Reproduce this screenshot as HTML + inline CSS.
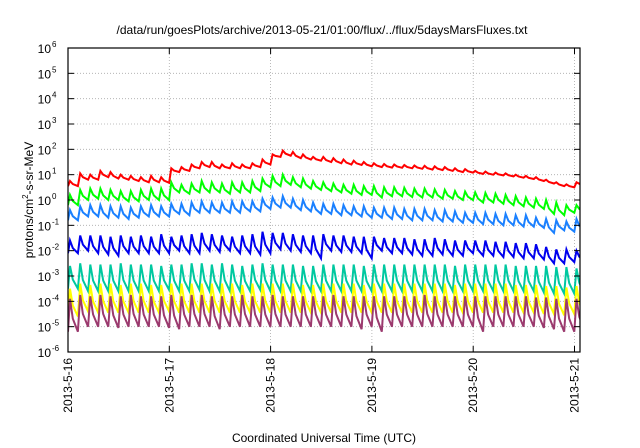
<!DOCTYPE html>
<html><head><meta charset="utf-8"><style>
body{margin:0;background:#fff}
svg{display:block;font-family:"Liberation Sans",sans-serif}
</style></head><body>
<svg id="chart" width="640" height="448" viewBox="0 0 640 448">
<rect width="640" height="448" fill="#fff"/>
<text x="322" y="34" font-size="12" text-anchor="middle">/data/run/goesPlots/archive/2013-05-21/01:00/flux/../flux/5daysMarsFluxes.txt</text>
<g id="grid"></g><g id="series"></g><g id="axes"></g>
<text x="324" y="442" font-size="12" text-anchor="middle">Coordinated Universal Time (UTC)</text>
<text transform="translate(33,200) rotate(-90)" font-size="12" text-anchor="middle">protons/cm<tspan dy="-5" font-size="8">2</tspan><tspan dy="5">-s-sr-MeV</tspan></text>
</svg>
<script>
const xTickLabels=["2013-5-16","2013-5-17","2013-5-18","2013-5-19","2013-5-20","2013-5-21"];
const yTickExps=[-6,-5,-4,-3,-2,-1,0,1,2,3,4,5,6];
const toothStep=0.1;
const colors=["#ff0000","#00ff00","#1a80ff","#0000ee","#00c8a0","#ffff00","#9b3a6e"];
const seriesNames=["red","green","light-blue","blue","teal","yellow","purple"];
const redPeaks=[0.75,1.05,1.0,1.15,1.1,1.0,0.95,0.9,0.95,0.9,1.25,1.3,1.4,1.5,1.5,1.4,1.45,1.4,1.45,1.6,1.8,1.95,1.9,1.8,1.7,1.7,1.65,1.6,1.55,1.5,1.45,1.42,1.4,1.38,1.36,1.35,1.33,1.3,1.25,1.22,1.15,1.12,1.08,1.05,1.0,0.95,0.9,0.8,0.7,0.62,0.7];
const redTroughs=[0.55,0.8,0.8,0.9,0.85,0.8,0.75,0.7,0.7,0.68,1.1,1.15,1.25,1.3,1.25,1.25,1.25,1.25,1.3,1.4,1.7,1.75,1.65,1.6,1.55,1.5,1.45,1.4,1.38,1.33,1.3,1.28,1.27,1.25,1.23,1.2,1.18,1.15,1.1,1.08,1.03,1.0,0.97,0.93,0.88,0.83,0.75,0.65,0.55,0.5,0.6];
const greenPeaks=[0.2,0.4,0.45,0.45,0.4,0.35,0.35,0.4,0.45,0.45,0.7,0.6,0.65,0.75,0.7,0.65,0.7,0.7,0.75,0.85,0.95,1.0,0.9,0.85,0.75,0.7,0.65,0.6,0.6,0.55,0.55,0.5,0.5,0.48,0.45,0.45,0.42,0.4,0.35,0.33,0.3,0.28,0.25,0.2,0.15,0.1,0.05,0,-0.1,-0.2,-0.2];
const greenTroughs=[-0.2,0,0.05,0,0,-0.05,-0.05,0,0,0,0.3,0.25,0.3,0.3,0.3,0.25,0.3,0.3,0.35,0.5,0.55,0.6,0.5,0.45,0.4,0.35,0.3,0.25,0.2,0.2,0.1,0.15,0.15,0.12,0.1,0.1,0.05,0.05,0,0,-0.1,-0.1,-0.15,-0.2,-0.25,-0.3,-0.35,-0.55,-0.6,-0.5,-0.45];
const lblPeaks=[-0.4,-0.25,-0.2,-0.2,-0.25,-0.25,-0.3,-0.25,-0.2,-0.25,-0.15,-0.15,-0.1,-0.05,-0.1,-0.1,-0.05,-0.05,-0.05,0.05,0.1,0.15,0.05,0,-0.1,-0.15,-0.15,-0.2,-0.25,-0.25,-0.3,-0.3,-0.3,-0.35,-0.35,-0.35,-0.4,-0.4,-0.45,-0.5,-0.5,-0.5,-0.55,-0.55,-0.6,-0.6,-0.7,-0.75,-0.8,-0.85,-0.75];
const lblTroughs=[-0.8,-0.65,-0.65,-0.7,-0.7,-0.75,-0.7,-0.65,-0.65,-0.65,-0.55,-0.6,-0.5,-0.5,-0.5,-0.5,-0.5,-0.45,-0.45,-0.35,-0.3,-0.3,-0.4,-0.45,-0.55,-0.55,-0.6,-0.6,-0.65,-0.7,-0.7,-0.75,-0.75,-0.8,-0.8,-0.8,-0.85,-0.85,-0.9,-0.9,-0.95,-0.95,-1.0,-1.0,-1.05,-1.05,-1.1,-1.3,-1.2,-1.25,-1.2];
const bluePeaks=[-1.6,-1.4,-1.4,-1.4,-1.45,-1.4,-1.45,-1.4,-1.45,-1.35,-1.45,-1.4,-1.35,-1.3,-1.35,-1.4,-1.45,-1.4,-1.35,-1.25,-1.3,-1.3,-1.35,-1.4,-1.4,-1.35,-1.4,-1.4,-1.45,-1.45,-1.45,-1.5,-1.5,-1.5,-1.55,-1.55,-1.5,-1.55,-1.6,-1.6,-1.6,-1.6,-1.65,-1.65,-1.7,-1.7,-1.75,-1.85,-1.95,-1.95,-2.0];
const blueTroughs=[-2.1,-2.0,-2.1,-2.15,-2.2,-2.1,-2.1,-2.1,-2.1,-2.1,-2.0,-2.1,-2.1,-2.0,-2.05,-2.0,-2.1,-2.1,-2.15,-2.1,-1.95,-2.0,-2.05,-2.1,-2.3,-2.0,-2.05,-2.05,-2.1,-2.3,-2.0,-2.1,-2.1,-2.15,-2.2,-2.2,-2.15,-2.2,-2.2,-2.1,-2.2,-2.2,-2.25,-2.25,-2.3,-2.3,-2.35,-2.5,-2.5,-2.45,-2.4];
const tealPeaks=[-2.6,-2.5,-2.55,-2.55,-2.55,-2.5,-2.55,-2.55,-2.55,-2.6,-2.55,-2.55,-2.5,-2.5,-2.55,-2.5,-2.55,-2.6,-2.55,-2.5,-2.55,-2.55,-2.55,-2.6,-2.6,-2.55,-2.55,-2.55,-2.55,-2.6,-2.55,-2.55,-2.55,-2.55,-2.55,-2.55,-2.55,-2.55,-2.6,-2.55,-2.55,-2.55,-2.55,-2.55,-2.6,-2.6,-2.6,-2.6,-2.65,-2.65,-2.7];
const tealTroughs=[-3.5,-3.6,-3.6,-3.6,-3.6,-3.6,-3.6,-3.6,-3.6,-3.55,-3.6,-3.6,-3.55,-3.6,-3.6,-3.6,-3.6,-3.6,-3.55,-3.6,-3.6,-3.6,-3.6,-3.6,-3.6,-3.6,-3.6,-3.6,-3.6,-3.6,-3.6,-3.6,-3.6,-3.6,-3.6,-3.6,-3.6,-3.6,-3.6,-3.6,-3.6,-3.6,-3.6,-3.6,-3.6,-3.6,-3.65,-3.7,-3.7,-3.7,-3.65];
const yellowPeaks=[-3.5,-3.3,-3.35,-3.3,-3.3,-3.35,-3.3,-3.3,-3.35,-3.35,-3.3,-3.3,-3.3,-3.3,-3.3,-3.3,-3.3,-3.35,-3.3,-3.3,-3.3,-3.3,-3.3,-3.35,-3.35,-3.3,-3.3,-3.3,-3.3,-3.35,-3.3,-3.3,-3.3,-3.3,-3.3,-3.3,-3.3,-3.3,-3.35,-3.3,-3.3,-3.3,-3.3,-3.3,-3.35,-3.35,-3.35,-3.4,-3.4,-3.45,-3.4];
const yellowTroughs=[-4.6,-4.4,-4.45,-4.45,-4.45,-4.45,-4.45,-4.45,-4.45,-4.4,-4.45,-4.45,-4.45,-4.45,-4.45,-4.45,-4.45,-4.45,-4.45,-4.45,-4.45,-4.45,-4.45,-4.45,-4.45,-4.45,-4.45,-4.45,-4.45,-4.45,-4.45,-4.45,-4.45,-4.45,-4.45,-4.45,-4.45,-4.45,-4.45,-4.45,-4.45,-4.45,-4.45,-4.45,-4.45,-4.45,-4.5,-4.5,-4.55,-4.5,-4.5];
const purplePeaks=[-3.9,-3.75,-3.8,-3.75,-3.8,-3.8,-3.75,-3.8,-3.8,-3.8,-3.75,-3.8,-3.75,-3.75,-3.8,-3.8,-3.8,-3.75,-3.8,-3.8,-3.75,-3.8,-3.8,-3.8,-3.8,-3.8,-3.75,-3.8,-3.8,-3.8,-3.8,-3.8,-3.8,-3.8,-3.8,-3.75,-3.8,-3.8,-3.8,-3.8,-3.8,-3.8,-3.8,-3.8,-3.8,-3.8,-3.85,-3.85,-3.9,-3.9,-3.9];
const purpleTroughs=[-5.2,-5.0,-5.0,-5.0,-5.05,-5.0,-5.0,-5.0,-5.0,-5.05,-5.1,-5.0,-5.0,-5.0,-5.1,-5.0,-5.0,-5.0,-5.0,-5.0,-5.0,-5.0,-5.0,-5.0,-5.0,-5.0,-5.0,-5.0,-5.1,-5.0,-5.2,-5.0,-5.0,-5.0,-5.0,-5.0,-5.0,-5.0,-5.0,-5.0,-5.2,-5.0,-5.0,-5.0,-5.0,-5.0,-5.05,-5.1,-5.2,-5.2,-5.1];
const allPeaks=[redPeaks,greenPeaks,lblPeaks,bluePeaks,tealPeaks,yellowPeaks,purplePeaks];
const allTroughs=[redTroughs,greenTroughs,lblTroughs,blueTroughs,tealTroughs,yellowTroughs,purpleTroughs];

const L=68,R=580,T=48,B=352,dayPx=101.3,tMax=(R-L)/dayPx;
const xs=t=>L+t*dayPx;
const ys=v=>T+(6-v)*(B-T)/12;
const NS="http://www.w3.org/2000/svg";
function mk(tag,attrs,parent){const e=document.createElementNS(NS,tag);for(const k in attrs)e.setAttribute(k,attrs[k]);parent.appendChild(e);return e;}
const grid=document.getElementById('grid'),axes=document.getElementById('axes'),ser=document.getElementById('series');
yTickExps.forEach((ex,i)=>{
  const y=ys(ex);
  if(ex>-6&&ex<6){const g=mk('line',{x1:L,x2:R,y1:y,y2:y,stroke:'#aaa','stroke-width':0.8,'stroke-dasharray':'1,2'},grid);
  
  }
  mk('line',{x1:L,x2:L+6,y1:y,y2:y,stroke:'#000'},axes);
  mk('line',{x1:R,x2:R-6,y1:y,y2:y,stroke:'#000'},axes);
  const t=mk('text',{x:L-17,y:y+5,'font-size':12,'text-anchor':'end'},axes);
  
  
  t.textContent='10';
  const s=mk('tspan',{x:L-16,dy:-6,'font-size':8,'text-anchor':'start'},t);s.textContent=String(ex);
});
xTickLabels.forEach((lab,i)=>{
  const x=xs(i);
  if(i>0){const g=mk('line',{x1:x,x2:x,y1:T,y2:B,stroke:'#aaa','stroke-width':0.8,'stroke-dasharray':'1,2'},grid);
  
  }
  mk('line',{x1:x,x2:x,y1:B,y2:B-6,stroke:'#000'},axes);
  mk('line',{x1:x,x2:x,y1:T,y2:T+6,stroke:'#000'},axes);
  const t=mk('text',{transform:`translate(${x+4},${B+6}) rotate(-90)`,'font-size':12,'text-anchor':'end'},axes);
  
  
  t.textContent=lab;
});
const fr=mk('rect',{x:L,y:T,width:R-L,height:B-T,fill:'none',stroke:'#000','stroke-width':1.2},axes);


const cp=mk('clipPath',{id:'clp'},ser);
mk('rect',{x:L,y:T,width:R-L,height:B-T},cp);
allPeaks.forEach((pk,si)=>{
  const tr=allTroughs[si];let d='';
  pk.forEach((p,k)=>{
    const t0=k*toothStep+0.02,t1=Math.min(k*toothStep+toothStep*0.98,tMax+0.05);
    if(k===0)d+='M'+xs(0).toFixed(1)+','+ys(tr[0]).toFixed(1)+' ';
    d+='L'+xs(t0).toFixed(1)+','+ys(p).toFixed(1)+' ';
    const tm=t0+(t1-t0)*0.35,vm=p+(tr[k]-p)*0.6;
    d+='L'+xs(tm).toFixed(1)+','+ys(vm).toFixed(1)+' L'+xs(t1).toFixed(1)+','+ys(tr[k]).toFixed(1)+' ';
  });
  const path=mk('path',{d:d,fill:'none',stroke:colors[si],'stroke-width':2,'stroke-linejoin':'miter','clip-path':'url(#clp)'},ser);
  
  
});
</script>
</body></html>
